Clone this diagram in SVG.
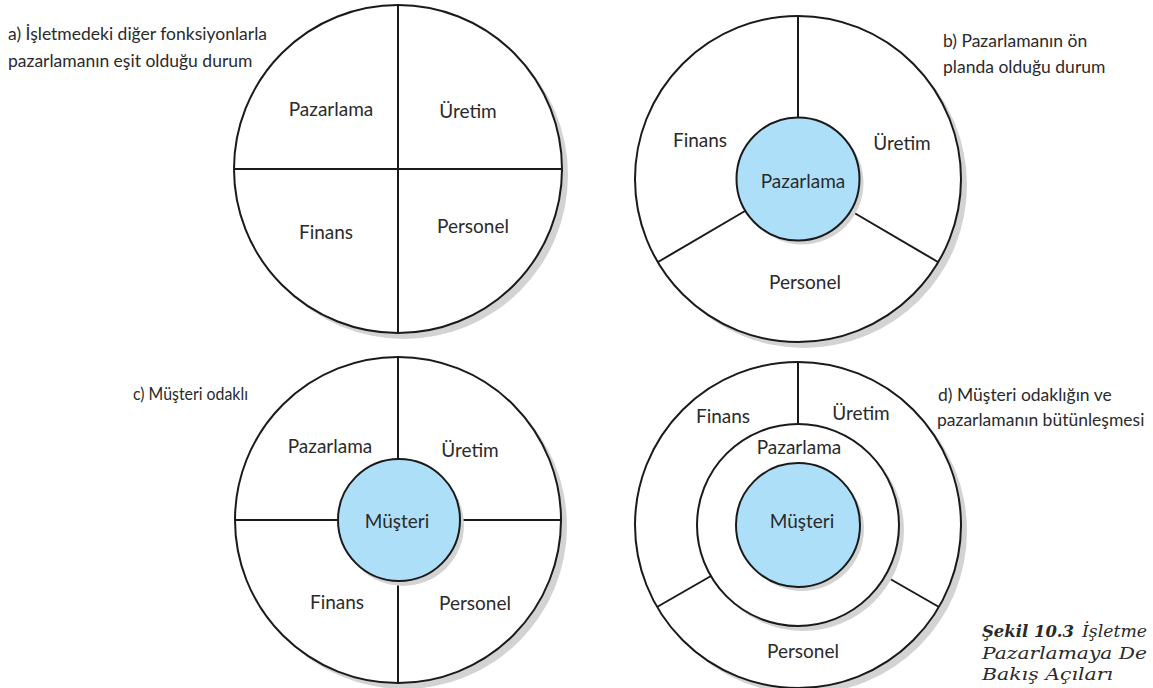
<svg xmlns="http://www.w3.org/2000/svg" width="1153" height="688" viewBox="0 0 1153 688">
<style>
.outer{fill:#fff;stroke:#1a1a1a;stroke-width:2}
.inner{fill:#ade0f8;stroke:#1a1a1a;stroke-width:2}
.shadow{fill:#d3d3d3;stroke:none}
.div{stroke:#1a1a1a;stroke-width:2;fill:none}
.lbl{font-family:Lato,"Open Sans",sans-serif;font-size:19px;fill:#2a2a2a;text-anchor:middle}
.cap{font-family:Lato,"Open Sans",sans-serif;font-size:17.5px;fill:#2a2a2a}
.fig{font-family:"DejaVu Serif","Liberation Serif",serif;font-style:italic;font-size:17px;fill:#2a2a2a}
</style>
<rect width="1153" height="688" fill="#fff"/>

<g id="diagram-a">
<circle class="shadow" cx="404" cy="175" r="164"/>
<circle class="outer" cx="398" cy="169" r="164"/>
<g id="dividers-a">
<line class="div" x1="398" y1="5" x2="398" y2="333"/>
<line class="div" x1="234" y1="169" x2="562" y2="169"/>
</g>
<text class="lbl" x="331" y="116">Pazarlama</text>
<text class="lbl" x="468" y="118">Üretim</text>
<text class="lbl" x="326" y="239">Finans</text>
<text class="lbl" x="473" y="233">Personel</text>
</g>
<g id="title-a">
<text class="cap" x="8" y="40">a) İşletmedeki diğer fonksiyonlarla</text>
<text class="cap" x="8" y="67">pazarlamanın eşit olduğu durum</text>
</g>

<g id="diagram-b">
<circle class="shadow" cx="804" cy="185" r="163"/>
<circle class="outer" cx="798" cy="179" r="163"/>
<g id="dividers-b">
<line class="div" x1="798" y1="16" x2="798" y2="118"/>
<line class="div" x1="745" y1="211" x2="658" y2="262"/>
<line class="div" x1="851" y1="211" x2="938" y2="262"/>
</g>
<circle class="shadow" cx="802" cy="183" r="61.5"/>
<circle class="inner" cx="798" cy="179" r="61.5"/>
<text class="lbl" x="700" y="147">Finans</text>
<text class="lbl" x="902" y="150">Üretim</text>
<text class="lbl" x="803" y="188">Pazarlama</text>
<text class="lbl" x="805" y="289">Personel</text>
</g>
<g id="title-b">
<text class="cap" x="943" y="47">b) Pazarlamanın ön</text>
<text class="cap" x="943" y="73">planda olduğu durum</text>
</g>

<g id="diagram-c">
<circle class="shadow" cx="404" cy="526" r="163"/>
<circle class="outer" cx="398" cy="520" r="163"/>
<g id="dividers-c">
<line class="div" x1="398" y1="357" x2="398" y2="459"/>
<line class="div" x1="398" y1="581" x2="398" y2="683"/>
<line class="div" x1="235" y1="520" x2="337" y2="520"/>
<line class="div" x1="459" y1="520" x2="561" y2="520"/>
</g>
<circle class="shadow" cx="403" cy="525" r="61"/>
<circle class="inner" cx="399" cy="520" r="61"/>
<text class="lbl" x="330" y="453">Pazarlama</text>
<text class="lbl" x="470" y="457">Üretim</text>
<text class="lbl" x="397" y="528">Müşteri</text>
<text class="lbl" x="337" y="609">Finans</text>
<text class="lbl" x="475" y="610">Personel</text>
</g>
<g id="title-c">
<text class="cap" x="133" y="400" textLength="115" lengthAdjust="spacingAndGlyphs">c) Müşteri odaklı</text>
</g>

<g id="diagram-d">
<circle class="shadow" cx="804" cy="531" r="163"/>
<circle class="outer" cx="798" cy="525" r="163"/>
<g id="dividers-d">
<line class="div" x1="798" y1="362" x2="798" y2="424"/>
<line class="div" x1="711" y1="576" x2="657" y2="607"/>
<line class="div" x1="885" y1="576" x2="939" y2="607"/>
</g>
<circle class="shadow" cx="803" cy="530" r="101"/>
<circle class="outer" cx="798" cy="525" r="101"/>
<circle class="shadow" cx="802" cy="529" r="62"/>
<circle class="inner" cx="798" cy="525" r="62"/>
<text class="lbl" x="723" y="423">Finans</text>
<text class="lbl" x="861" y="420">Üretim</text>
<text class="lbl" x="799" y="454">Pazarlama</text>
<text class="lbl" x="802" y="528">Müşteri</text>
<text class="lbl" x="803" y="658">Personel</text>
</g>
<g id="title-d">
<text class="cap" x="938" y="401">d) Müşteri odaklığın ve</text>
<text class="cap" x="937" y="426">pazarlamanın bütünleşmesi</text>
</g>

<g id="caption">
<text class="fig" x="982" y="637" font-weight="bold" textLength="92" lengthAdjust="spacingAndGlyphs">Şekil 10.3</text>
<text class="fig" x="1082" y="637" textLength="65" lengthAdjust="spacingAndGlyphs">İşletme</text>
<text class="fig" x="982" y="659" textLength="165" lengthAdjust="spacingAndGlyphs">Pazarlamaya De</text>
<text class="fig" x="982" y="680" textLength="131" lengthAdjust="spacingAndGlyphs">Bakış Açıları</text>
</g>
</svg>
